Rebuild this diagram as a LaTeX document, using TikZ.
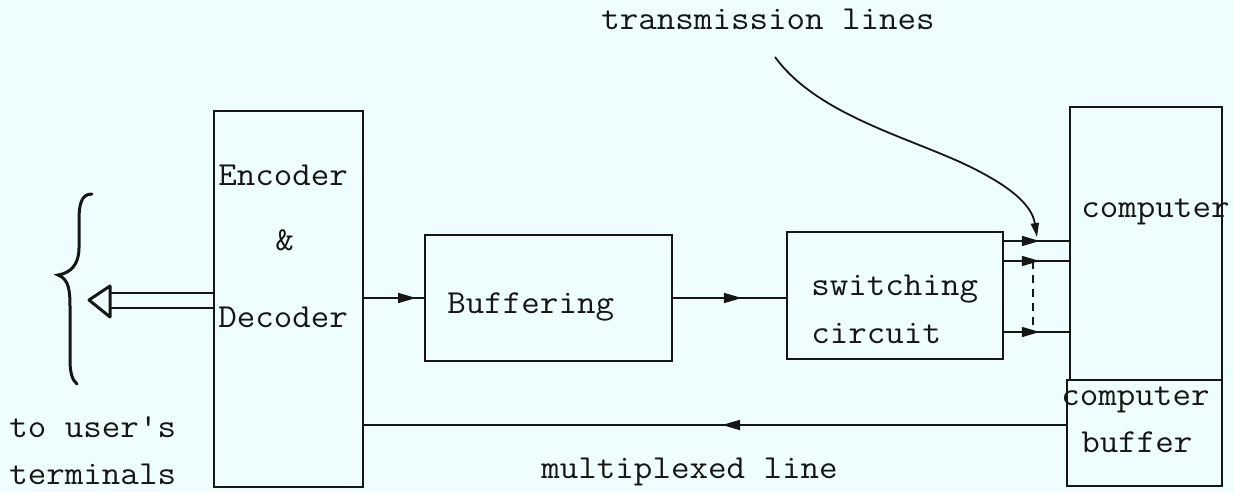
\documentclass[tikz,border=0pt]{standalone}
\usepackage{fontspec}
\usetikzlibrary{arrows.meta,decorations.markings,calc}
\definecolor{paper}{RGB}{238,254,255}
\definecolor{ink}{RGB}{22,22,22}
% typewriter text, slightly widened
\newcommand{\typed}[1]{\scalebox{1.07}[1]{#1}}
\tikzset{
  box/.style={draw=ink, line width=1.2pt, inner sep=0pt},
  lbl/.style={font=\ttfamily\fontsize{16.8}{18}\selectfont,
    anchor=base west, inner sep=0pt, text=ink},
  wire/.style={draw=ink, line width=0.9pt},
  midarrow/.style={wire, postaction={decorate},
    decoration={markings, mark=at position #1 with {\arrow{Triangle[length=9pt,width=5pt]}}}}
}
\begin{document}
\begin{tikzpicture}[x=0.5pt,y=-0.5pt]
  % page
  \fill[paper] (0,0) rectangle (1234,492);
  \useasboundingbox (0,0) rectangle (1234,492);

  % blocks
  \node[box, minimum width=74.5pt, minimum height=188pt]   (enc)  at (288.5,299) {};
  \node[box, minimum width=123.5pt, minimum height=63pt]   (buf)  at (548.5,298) {};
  \node[box, minimum width=108pt,  minimum height=63.5pt]  (sw)   at (895,295.5) {};
  \node[box, minimum width=76pt,   minimum height=136.5pt] (comp) at (1146,243.5) {};
  \node[box, minimum width=77.5pt, minimum height=53pt]    (cbuf) at (1144.5,433) {};

  % block texts
  \node[lbl] (tEnc)  at (218,185) {\typed{Encoder}};
  \node[lbl] (tAmp)  at (275,250) {\typed{\&}};
  \node[lbl] (tDec)  at (218,327) {\typed{Decoder}};
  \node[lbl] (tBuf)  at (447,313) {\typed{Buffering}};
  \node[lbl] (tSw1)  at (811,295) {\typed{switching}};
  \node[lbl] (tSw2)  at (811,343) {\typed{circuit}};
  \node[lbl] (tComp) at (1081,217) {\typed{computer}};
  \node[lbl] (tCb1)  at (1061,405) {\typed{computer}};
  \node[lbl] (tCb2)  at (1081,452) {\typed{buffer}};

  % free labels
  \node[lbl] (tTx)  at (601,30)  {\typed{transmission lines}};
  \node[lbl] (tMux) at (541,478) {\typed{multiplexed line}};
  \node[lbl] (tUs1) at (9,437)   {\typed{to user's}};
  \node[lbl] (tUs2) at (9,484)   {\typed{terminals}};

  % forward path
  \draw[midarrow=0.87] (enc.east |- buf.west) -- (buf.west);
  \draw[midarrow=0.61] (buf.east) -- (sw.west |- buf.east);

  % transmission lines into the computer
  \coordinate (yT1) at (0,241);
  \coordinate (yT2) at (0,261);
  \coordinate (yT3) at (0,332);
  \draw[midarrow=0.55] (sw.east |- yT1) -- (comp.west |- yT1);
  \draw[midarrow=0.55] (sw.east |- yT2) -- (comp.west |- yT2);
  \draw[midarrow=0.55] (sw.east |- yT3) -- (comp.west |- yT3);
  \draw[wire, dash pattern=on 4pt off 3pt]
    ($(sw.east |- yT2)!0.45!(comp.west |- yT2)$) -- ($(sw.east |- yT3)!0.45!(comp.west |- yT3)$);

  % pointer from the label to the lines
  \coordinate (txStart) at (775,57);
  \coordinate (txEnd) at (1037,237);
  \draw[wire, -{Triangle[length=7pt,width=4pt]}]
    (txStart) .. controls (815,112) and (900,135) .. (960,162)
              .. controls (1010,185) and (1032,205) .. (txEnd);

  % multiplexed return line
  \coordinate (yM) at (0,425);
  \draw[midarrow=0.49] (cbuf.west |- yM) -- (enc.east |- yM);

  % wide output arrow to the terminals
  \coordinate (oA) at (110,293);
  \coordinate (oB) at (110,308);
  \coordinate (oTip) at (89,300);
  \coordinate (oT) at (110,286);
  \coordinate (oD) at (110,317);
  \draw[wire] (enc.west |- oA) -- (oA);
  \draw[wire] (enc.west |- oB) -- (oB);
  \draw[wire, line width=1.5pt, line join=round] (oTip) -- (oT) -- (oD) -- cycle;

  % brace grouping the terminals
  \draw[ink, line width=1.5pt, line cap=round]
    (92,194) .. controls (81,194) and (79,205) .. (79,220) -- (79,248)
    .. controls (79,264) and (71,273) .. (58,275)
    .. controls (69,279) and (70,291) .. (70,306) -- (70,360)
    .. controls (70,372) and (72,380) .. (77,384);
\end{tikzpicture}
\end{document}
